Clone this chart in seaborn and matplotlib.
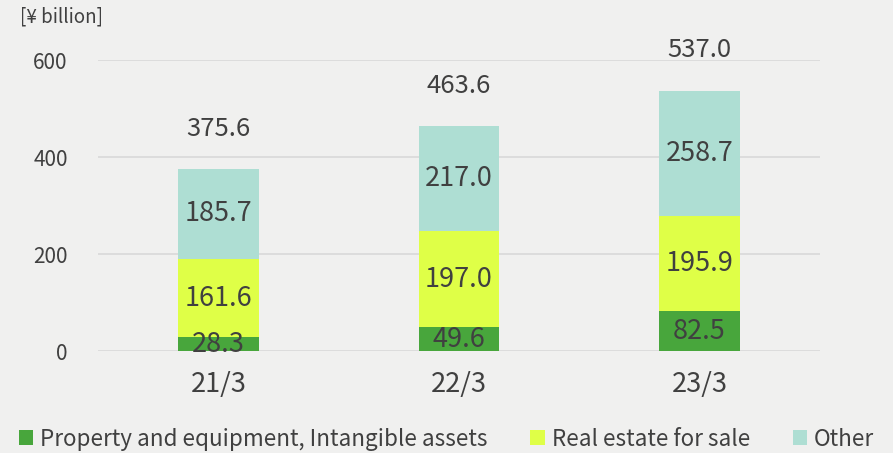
import numpy as np
import pandas as pd
import seaborn as sns
import matplotlib.pyplot as plt
from matplotlib.patches import Patch

# data
years = ['21/3', '22/3', '23/3']
property_equipment = [28.3, 49.6, 82.5]
real_estate = [161.6, 197.0, 195.9]
other = [185.7, 217.0, 258.7]
totals = [375.6, 463.6, 537.0]
series_names = ['Property and equipment, Intangible assets', 'Real estate for sale', 'Other']

colors = ['#48a63c', '#dfff47', '#aeded3']
bg = '#f0f0ef'
txt = '#404040'

sns.set_style('white')
plt.rcParams['font.family'] = ['Noto Sans CJK JP', 'DejaVu Sans']

df = pd.DataFrame({'year': years, 'p': property_equipment, 'r': real_estate, 'o': other})
df['c1'] = df['p']
df['c2'] = df['p'] + df['r']
df['c3'] = df['c2'] + df['o']

fig = plt.figure(figsize=(8.93, 4.53), dpi=100, facecolor=bg)
ax = fig.add_axes([0.11, 0.225, 0.808, 0.6425], facecolor=bg)

# stacked bars by overlaying cumulative sums, tallest first
for col, c in zip(['c3', 'c2', 'c1'], colors[::-1]):
    sns.barplot(data=df, x='year', y=col, color=c, width=0.333, ax=ax,
                saturation=1, edgecolor='none', zorder=3)

ax.set_xlim(-0.5, 2.5)
ax.set_ylim(0, 600)
ax.set_yticks([0, 200, 400, 600])
ax.yaxis.grid(True, color='#d9d9d9', linewidth=1.2, zorder=0)
ax.set_axisbelow(True)
for s in ax.spines.values():
    s.set_visible(False)
ax.set_xlabel('')
ax.set_ylabel('')
ax.tick_params(axis='y', length=0, pad=22, labelsize=15, labelcolor=txt)
ax.tick_params(axis='x', length=0, pad=14, labelsize=19.5, labelcolor=txt)

# segment labels
for i in range(len(years)):
    bottoms = [0, property_equipment[i], property_equipment[i] + real_estate[i]]
    vals = [property_equipment[i], real_estate[i], other[i]]
    for b, v in zip(bottoms, vals):
        ax.text(i, b + v / 2, f'{v:.1f}', ha='center', va='center',
                fontsize=19.5, color=txt, zorder=5)
    ax.annotate(f'{totals[i]:.1f}', (i, totals[i]), xytext=(0, 29),
                textcoords='offset points', ha='center', va='center',
                fontsize=18.5, color=txt, annotation_clip=False)

fig.text(0.022, 0.962, '[¥ billion]', fontsize=13.5, color=txt, va='center', ha='left')

handles = [Patch(facecolor=c, edgecolor='none') for c in colors]
fig.legend(handles, series_names, loc='lower center', bbox_to_anchor=(0.5, -0.04),
           ncol=3, frameon=False, fontsize=16.2, labelcolor=txt,
           handlelength=0.65, handleheight=0.65, handletextpad=0.3, columnspacing=1.9)

fig.savefig('out.png', dpi=100, facecolor=bg)
